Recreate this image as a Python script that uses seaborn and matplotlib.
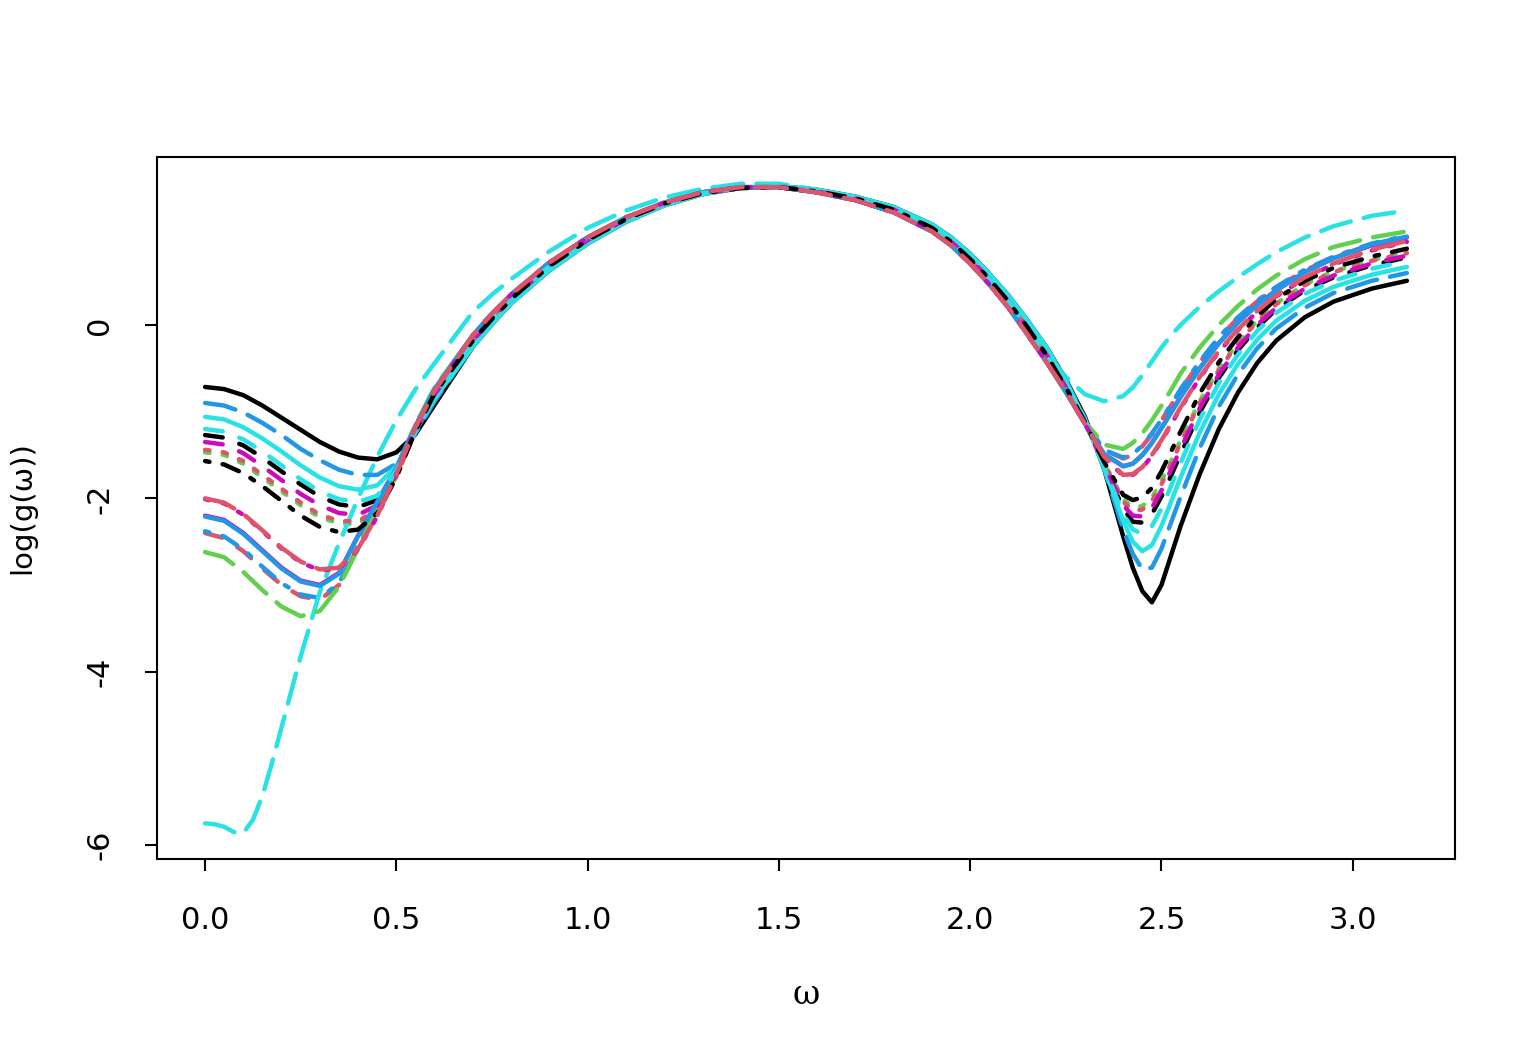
import matplotlib
matplotlib.use("Agg")
import matplotlib.pyplot as plt
import pandas as pd
import seaborn as sns

# frequency grid: left branch, shared middle part, right branch
omega_left = [0.0, 0.05, 0.1, 0.15, 0.2, 0.25, 0.3, 0.35, 0.4, 0.45, 0.5, 0.55, 0.6]
omega_left_fine = [0.0, 0.025, 0.05, 0.075, 0.1, 0.125, 0.15, 0.175, 0.2, 0.25, 0.3, 0.35, 0.4,
                   0.45, 0.5, 0.55, 0.6]
omega_mid = [0.7, 0.75, 0.8, 0.9, 1.0, 1.1, 1.2, 1.3, 1.4, 1.5, 1.6, 1.7, 1.8, 1.9, 1.95, 2.0,
             2.05, 2.1, 2.15, 2.2]
omega_right = [2.25, 2.3, 2.35, 2.4, 2.425, 2.45, 2.475, 2.5, 2.525, 2.55, 2.6, 2.65, 2.7, 2.75,
               2.8, 2.875, 2.95, 3.05, 3.1416]

# middle part of the bundle (curves almost coincide there)
mid_a = [-0.12, 0.13, 0.35, 0.72, 1.01, 1.24, 1.41, 1.53, 1.59, 1.59, 1.53, 1.44, 1.30, 1.08, 0.92,
         0.71, 0.47, 0.20, -0.11, -0.43]
mid_b = [-0.18, 0.07, 0.30, 0.68, 0.98, 1.22, 1.40, 1.52, 1.58, 1.59, 1.54, 1.46, 1.33, 1.12, 0.96,
         0.76, 0.53, 0.27, -0.03, -0.35]
mid_c = [-0.25, 0.01, 0.25, 0.63, 0.94, 1.19, 1.38, 1.51, 1.58, 1.60, 1.56, 1.48, 1.36, 1.16, 1.01,
         0.82, 0.59, 0.34, 0.05, -0.26]
mid_d = [0.15, 0.35, 0.53, 0.85, 1.12, 1.32, 1.47, 1.57, 1.63, 1.63, 1.56, 1.46, 1.32, 1.10, 0.94,
         0.74, 0.51, 0.25, -0.03, -0.33]

black_solid = ([-0.715, -0.74, -0.81, -0.93, -1.07, -1.21, -1.35, -1.46, -1.53, -1.55, -1.47, -1.26, -0.92]
               + mid_c +
               [-0.63, -1.06, -1.66, -2.44, -2.80, -3.07, -3.20, -3.00, -2.66, -2.32, -1.72, -1.20, -0.78,
                -0.44, -0.18, 0.09, 0.27, 0.42, 0.51])
red_dashed = ([-2.40, -2.46, -2.61, -2.81, -3.00, -3.13, -3.17, -3.00, -2.56, -2.11, -1.66, -1.16, -0.73]
              + mid_a +
              [-0.77, -1.13, -1.44, -1.54, -1.50, -1.40, -1.26, -1.10, -0.93, -0.75, -0.43, -0.15, 0.08,
               0.27, 0.43, 0.63, 0.78, 0.93, 1.02])
green_dotted = ([-1.47, -1.50, -1.60, -1.76, -1.92, -2.08, -2.22, -2.29, -2.30, -2.14, -1.75, -1.22, -0.79]
                + mid_b +
                [-0.72, -1.12, -1.59, -2.01, -2.10, -2.09, -1.99, -1.80, -1.57, -1.33, -0.88, -0.50, -0.20,
                 0.05, 0.25, 0.47, 0.62, 0.75, 0.84])
blue_dotdash = ([-2.38, -2.44, -2.59, -2.79, -2.98, -3.11, -3.15, -2.98, -2.55, -2.10, -1.66, -1.16, -0.73]
                + mid_a +
                [-0.77, -1.13, -1.44, -1.53, -1.49, -1.39, -1.25, -1.09, -0.92, -0.74, -0.42, -0.14, 0.09,
                 0.28, 0.44, 0.64, 0.79, 0.94, 1.03])
cyan_longdash = ([-5.75, -5.76, -5.79, -5.85, -5.86, -5.71, -5.43, -5.05, -4.64, -3.82, -3.08, -2.52, -2.00,
                  -1.52, -1.10, -0.74, -0.44]
                 + mid_d +
                 [-0.60, -0.80, -0.88, -0.82, -0.72, -0.58, -0.42, -0.26, -0.12, 0.00, 0.21, 0.39, 0.55,
                  0.70, 0.84, 1.01, 1.14, 1.26, 1.32])
magenta_solid = ([-2.20, -2.25, -2.40, -2.60, -2.80, -2.95, -3.00, -2.86, -2.43, -2.04, -1.65, -1.17, -0.74]
                 + mid_a +
                 [-0.77, -1.14, -1.49, -1.63, -1.60, -1.50, -1.36, -1.19, -1.01, -0.83, -0.50, -0.21, 0.03,
                  0.23, 0.40, 0.61, 0.77, 0.92, 1.01])
black_dashed = ([-1.27, -1.30, -1.39, -1.53, -1.69, -1.84, -1.98, -2.07, -2.10, -2.02, -1.70, -1.22, -0.80]
                + mid_b +
                [-0.72, -1.12, -1.62, -2.12, -2.27, -2.28, -2.18, -1.98, -1.74, -1.49, -1.01, -0.61, -0.29,
                 -0.03, 0.18, 0.40, 0.55, 0.69, 0.78])
red_dotted = ([-1.44, -1.47, -1.57, -1.73, -1.89, -2.05, -2.19, -2.26, -2.27, -2.12, -1.74, -1.22, -0.79]
              + mid_b +
              [-0.72, -1.12, -1.60, -2.04, -2.14, -2.13, -2.03, -1.84, -1.60, -1.36, -0.90, -0.52, -0.21,
               0.04, 0.24, 0.46, 0.61, 0.74, 0.83])
blue_longdash = ([-0.90, -0.93, -1.01, -1.13, -1.27, -1.43, -1.56, -1.67, -1.73, -1.73, -1.60, -1.25, -0.88]
                 + mid_c +
                 [-0.64, -1.08, -1.66, -2.36, -2.64, -2.82, -2.80, -2.58, -2.28, -1.98, -1.42, -0.94, -0.57,
                  -0.27, -0.04, 0.20, 0.37, 0.51, 0.60])
cyan_solid = ([-1.06, -1.09, -1.18, -1.31, -1.46, -1.62, -1.76, -1.86, -1.90, -1.85, -1.63, -1.22, -0.85]
              + mid_c +
              [-0.65, -1.09, -1.65, -2.26, -2.50, -2.61, -2.54, -2.32, -2.04, -1.76, -1.24, -0.80, -0.45,
               -0.17, 0.05, 0.28, 0.44, 0.58, 0.67])
magenta_dashed = ([-1.35, -1.38, -1.48, -1.63, -1.79, -1.95, -2.08, -2.17, -2.19, -2.08, -1.72, -1.22, -0.80]
                  + mid_b +
                  [-0.72, -1.12, -1.61, -2.08, -2.20, -2.21, -2.11, -1.91, -1.67, -1.43, -0.96, -0.57, -0.26,
                   0.00, 0.20, 0.42, 0.57, 0.71, 0.80])
green_longdash = ([-2.62, -2.68, -2.85, -3.06, -3.25, -3.36, -3.30, -3.02, -2.58, -2.12, -1.66, -1.15, -0.72]
                  + mid_a +
                  [-0.78, -1.12, -1.38, -1.43, -1.36, -1.25, -1.10, -0.93, -0.75, -0.56, -0.26, 0.00, 0.22,
                   0.41, 0.57, 0.76, 0.90, 1.01, 1.08])
blue_solid = ([-2.21, -2.26, -2.41, -2.61, -2.81, -2.96, -3.01, -2.87, -2.43, -2.04, -1.65, -1.17, -0.74]
              + mid_a +
              [-0.77, -1.14, -1.49, -1.63, -1.60, -1.50, -1.36, -1.19, -1.01, -0.83, -0.50, -0.21, 0.03,
               0.23, 0.40, 0.61, 0.77, 0.93, 1.02])
cyan_dashed = ([-1.20, -1.23, -1.32, -1.46, -1.62, -1.78, -1.92, -2.01, -2.04, -1.97, -1.68, -1.22, -0.82]
               + mid_b +
               [-0.71, -1.11, -1.64, -2.18, -2.36, -2.41, -2.32, -2.12, -1.86, -1.59, -1.09, -0.67, -0.34,
                -0.07, 0.14, 0.36, 0.51, 0.65, 0.74])
magenta_dotted = ([-2.01, -2.06, -2.19, -2.38, -2.58, -2.74, -2.83, -2.81, -2.59, -2.21, -1.72, -1.18, -0.76]
                  + mid_a +
                  [-0.76, -1.14, -1.53, -1.74, -1.73, -1.65, -1.51, -1.34, -1.15, -0.96, -0.61, -0.31, -0.06,
                   0.15, 0.33, 0.54, 0.70, 0.86, 0.96])
black_dotdash = ([-1.57, -1.61, -1.71, -1.86, -2.03, -2.20, -2.33, -2.39, -2.36, -2.17, -1.76, -1.22, -0.79]
                 + mid_b +
                 [-0.72, -1.12, -1.58, -1.96, -2.02, -1.99, -1.88, -1.69, -1.46, -1.23, -0.79, -0.43, -0.14,
                  0.10, 0.30, 0.51, 0.66, 0.79, 0.88])
red_longdash = ([-2.00, -2.05, -2.18, -2.37, -2.57, -2.73, -2.82, -2.80, -2.58, -2.20, -1.72, -1.18, -0.76]
                + mid_a +
                [-0.76, -1.14, -1.52, -1.73, -1.72, -1.64, -1.50, -1.33, -1.14, -0.95, -0.60, -0.30, -0.05,
                 0.16, 0.34, 0.55, 0.71, 0.87, 0.97])

omega = omega_left + omega_mid + omega_right
omega_fine = omega_left_fine + omega_mid + omega_right

# R palette and line types
black, red, green, blue, cyan, magenta = "#000000", "#DF536B", "#61D04F", "#2297E6", "#28E2E5", "#CD0BBC"
solid, dashed, dotted, dotdash, longdash = "-", (0, (4, 4)), (0, (1, 3)), (0, (1, 3, 4, 3)), (0, (7, 3))

curves = [
    (omega, black_solid, black, solid),
    (omega, red_dashed, red, dashed),
    (omega, green_dotted, green, dotted),
    (omega, blue_dotdash, blue, dotdash),
    (omega_fine, cyan_longdash, cyan, longdash),
    (omega, magenta_solid, magenta, solid),
    (omega, black_dashed, black, dashed),
    (omega, red_dotted, red, dotted),
    (omega, blue_longdash, blue, longdash),
    (omega, cyan_solid, cyan, solid),
    (omega, magenta_dashed, magenta, dashed),
    (omega, green_longdash, green, longdash),
    (omega, blue_solid, blue, solid),
    (omega, cyan_dashed, cyan, dashed),
    (omega, magenta_dotted, magenta, dotted),
    (omega, black_dotdash, black, dotdash),
    (omega, red_longdash, red, longdash),
]

sns.set_style("white")
plt.rcParams["font.family"] = ["DejaVu Sans"]
plt.rcParams["text.color"] = "black"
plt.rcParams["xtick.color"] = "black"
plt.rcParams["ytick.color"] = "black"

W, H = 1536, 1056
fig = plt.figure(figsize=(W / 200, H / 200), dpi=200)
ax = fig.add_axes([157 / W, 1 - 859 / H, (1455 - 157) / W, (859 - 157) / H])

for xs, vals, col, ls in curves:
    df = pd.DataFrame({"omega": xs, "logg": vals})
    sns.lineplot(data=df, x="omega", y="logg", color=col, linestyle=ls, linewidth=1.6,
                 dash_capstyle="round", solid_capstyle="round", solid_joinstyle="round",
                 dash_joinstyle="round", sort=False, errorbar=None, ax=ax)

ax.set_xlim(-0.1257, 3.2673)
ax.set_ylim(-6.161, 1.938)
xt = [0.0, 0.5, 1.0, 1.5, 2.0, 2.5, 3.0]
ax.set_xticks(xt)
ax.set_xticklabels([f"{v:.1f}" for v in xt], fontsize=11, color="black")
yt = [-6, -4, -2, 0]
ax.set_yticks(yt)
ax.set_yticklabels([str(v) for v in yt], fontsize=11, rotation=90, va="center", color="black")
ax.tick_params(axis="x", direction="out", length=4.3, width=0.75, color="black", bottom=True, pad=12.5)
ax.tick_params(axis="y", direction="out", length=4.3, width=0.75, color="black", left=True, pad=11)
for sp in ax.spines.values():
    sp.set_color("black")
    sp.set_linewidth(0.75)
ax.set_xlabel("")
ax.set_ylabel("")

fig.text(806 / W, 1 - 995 / H, "ω", ha="center", va="center", fontsize=12,
         family="DejaVu Serif", color="black")
fig.text(22 / W, 1 - 508 / H, "log(g(ω))", ha="center", va="center", rotation=90,
         fontsize=10.5, color="black")

fig.savefig("out.png", dpi=200)
